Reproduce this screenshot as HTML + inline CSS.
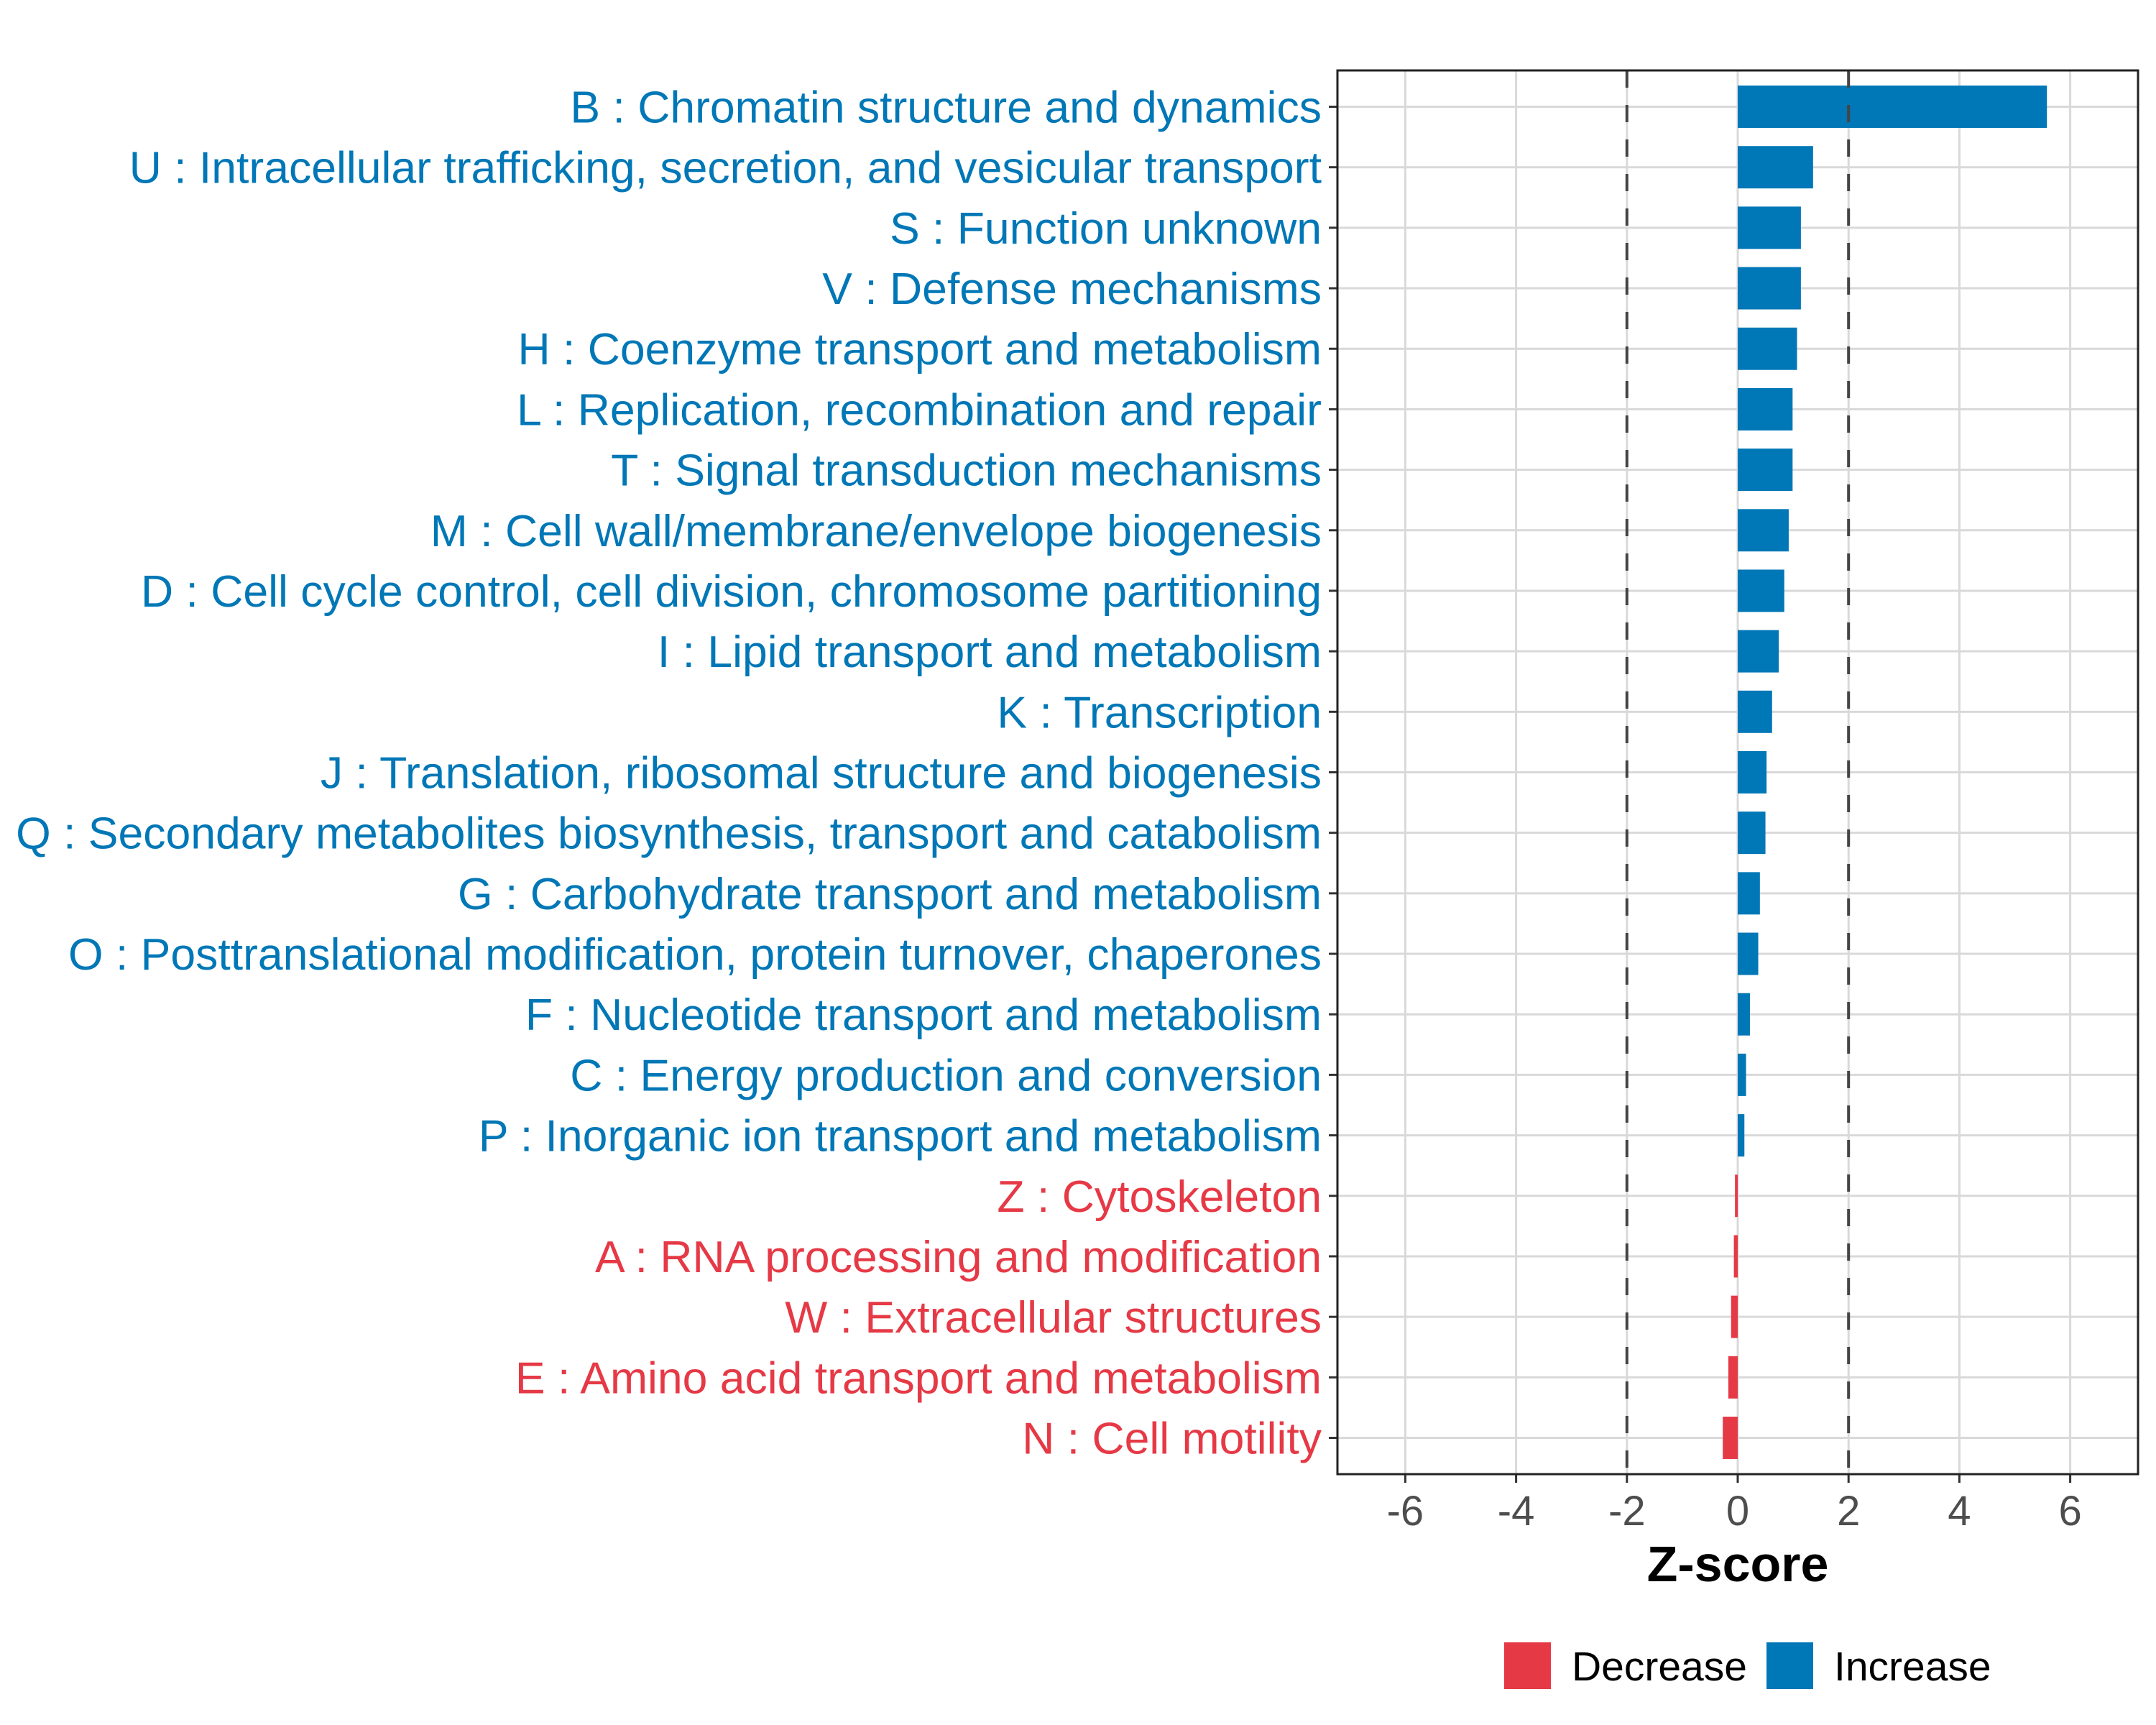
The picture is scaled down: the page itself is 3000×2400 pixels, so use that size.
<!DOCTYPE html>
<html><head><meta charset="utf-8"><style>
html,body{margin:0;padding:0;background:#fff;}
svg{display:block;font-family:"Liberation Sans",Arial,sans-serif;}
</style></head><body>
<svg id="chart" width="3000" height="2400" viewBox="0 0 3000 2400" xmlns="http://www.w3.org/2000/svg">
<rect width="3000" height="2400" fill="#fff"/>
<g id="grid"></g><g id="marks"></g><g id="axes"></g>
<text x="2418" y="2200" font-size="70" font-weight="bold" text-anchor="middle" fill="#000">Z-score</text>
<rect x="2093" y="2285" width="65" height="65" fill="#E63946"/>
<text x="2187" y="2338" font-size="57" fill="#000">Decrease</text>
<rect x="2458" y="2285" width="65" height="65" fill="#0077B6"/>
<text x="2552" y="2338" font-size="57" fill="#000">Increase</text>
</svg>
<script>
const categories = ["B : Chromatin structure and dynamics","U : Intracellular trafficking, secretion, and vesicular transport","S : Function unknown","V : Defense mechanisms","H : Coenzyme transport and metabolism","L : Replication, recombination and repair","T : Signal transduction mechanisms","M : Cell wall/membrane/envelope biogenesis","D : Cell cycle control, cell division, chromosome partitioning","I : Lipid transport and metabolism","K : Transcription","J : Translation, ribosomal structure and biogenesis","Q : Secondary metabolites biosynthesis, transport and catabolism","G : Carbohydrate transport and metabolism","O : Posttranslational modification, protein turnover, chaperones","F : Nucleotide transport and metabolism","C : Energy production and conversion","P : Inorganic ion transport and metabolism","Z : Cytoskeleton","A : RNA processing and modification","W : Extracellular structures","E : Amino acid transport and metabolism","N : Cell motility"];
const zscores = [5.58,1.36,1.14,1.14,1.07,0.99,0.99,0.92,0.84,0.74,0.62,0.52,0.50,0.40,0.37,0.22,0.15,0.12,-0.05,-0.07,-0.12,-0.17,-0.27];
const xTicks = [-6,-4,-2,0,2,4,6];
const xTickLabels = ["-6","-4","-2","0","2","4","6"];
const thresholds = [-2,2];

const NS="http://www.w3.org/2000/svg";
const PL=1861, PR=2975, PT=98, PB=2051;
const X0=2418, UNIT=77.1;
const x = v => X0 + v*UNIT;
const n = categories.length;
const step = (PB-PT)/(n-1+1.2);
const y = i => PT + 0.6*step + i*step;
const BLUE="#0077B6", RED="#E63946";
function mk(tag, attrs, parent){const e=document.createElementNS(NS,tag);for(const k in attrs)e.setAttribute(k,attrs[k]);parent.appendChild(e);return e;}
const grid=document.getElementById('grid'), marks=document.getElementById('marks'), axes=document.getElementById('axes');

mk('rect',{x:PL,y:PT,width:PR-PL,height:PB-PT,fill:'#fff'},grid);
xTicks.forEach((t,i)=>{
  const g=mk('line',{x1:x(t),x2:x(t),y1:PT,y2:PB,stroke:'#d9d9d9','stroke-width':3},grid);
  
  
  const tk=mk('line',{x1:x(t),x2:x(t),y1:PB,y2:PB+12,stroke:'#333','stroke-width':3},axes);
  
  
  const tl=mk('text',{x:x(t),y:2122,'font-size':58,'text-anchor':'middle',fill:'#4d4d4d'},axes);
  tl.textContent=xTickLabels[i];
  
  
});
categories.forEach((c,i)=>{
  const g=mk('line',{x1:PL,x2:PR,y1:y(i),y2:y(i),stroke:'#d9d9d9','stroke-width':3},grid);
  
  
  const v=zscores[i], col=v>=0?BLUE:RED, h=step*0.7;
  const b=mk('rect',{x:Math.min(x(0),x(v)),y:y(i)-h/2,width:Math.abs(x(v)-x(0)),height:h,fill:col},marks);
  
  
  const tk=mk('line',{x1:PL-12,x2:PL,y1:y(i),y2:y(i),stroke:'#333','stroke-width':3},axes);
  
  
  const tl=mk('text',{x:PL-22,y:y(i)+22,'font-size':62.5,'text-anchor':'end',fill:col},axes);
  tl.textContent=c;
  
  
});
thresholds.forEach(t=>{
  const d=mk('line',{x1:x(t),x2:x(t),y1:PT,y2:PB,stroke:'#444','stroke-width':4,'stroke-dasharray':'24 24'},marks);
  
  
});
const fr=mk('rect',{x:PL,y:PT,width:PR-PL,height:PB-PT,fill:'none',stroke:'#222','stroke-width':3},axes);


</script>
</body></html>
